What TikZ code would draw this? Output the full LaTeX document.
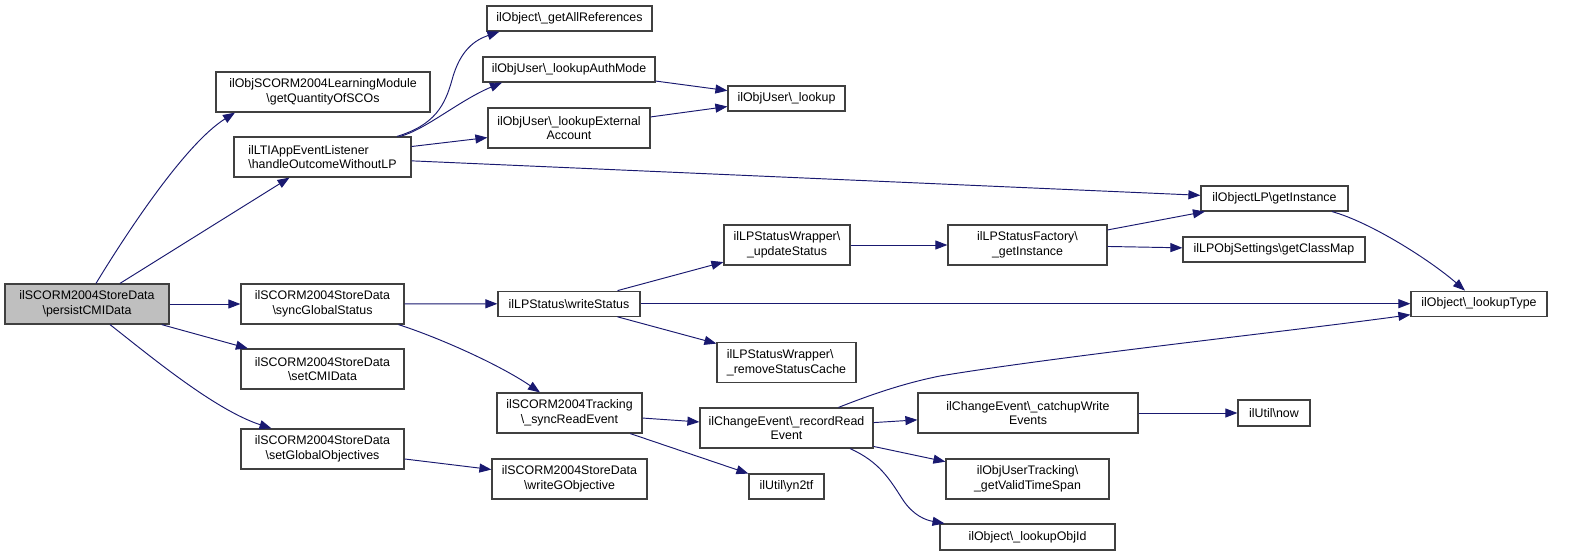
\documentclass[tikz,border=0pt]{standalone}
\usepackage{fontspec}
\setmainfont{Liberation Sans}
\usetikzlibrary{arrows.meta}
\newcommand\bsl{\textbackslash}
\definecolor{edgec}{HTML}{191970}
\definecolor{boxc}{HTML}{404040}
\definecolor{rootfill}{HTML}{BFBFBF}
\begin{document}
\begin{tikzpicture}[x=1pt,y=-1pt,
  box/.style={draw=boxc,line width=1.2pt,inner sep=0pt,align=center,rectangle,
    font=\fontsize{12.4pt}{14.7pt}\selectfont},
  sz/.style 2 args={minimum width=#1pt,minimum height=#2pt},
  edge/.style={draw=edgec,line width=0.95pt,-{Triangle[length=12pt,width=9pt]}}]
\fill[white] (0,0) rectangle (1583,556);
\useasboundingbox (0,0) rectangle (1583,556);
% nodes
\node[box,fill=rootfill,sz={164}{40}] (persist) at (87,304) {ilSCORM2004StoreData\\\bsl persistCMIData};
\node[box,sz={214}{40}] (qty) at (323,92) {ilObjSCORM2004LearningModule\\\bsl getQuantityOfSCOs};
\node[box,sz={177}{40},align=left] (handle) at (322.5,157) {ilLTIAppEventListener\\\bsl handleOutcomeWithoutLP};
\node[box,sz={163}{40}] (sync) at (322.5,304) {ilSCORM2004StoreData\\\bsl syncGlobalStatus};
\node[box,sz={163}{40}] (setcmi) at (322.5,369) {ilSCORM2004StoreData\\\bsl setCMIData};
\node[box,sz={163}{40}] (setglob) at (322.5,449) {ilSCORM2004StoreData\\\bsl setGlobalObjectives};
\node[box,sz={165}{25}] (allref) at (569.5,18.5) {ilObject\bsl\_getAllReferences};
\node[box,sz={172}{25}] (authmode) at (569,69.5) {ilObjUser\bsl\_lookupAuthMode};
\node[box,sz={162}{40}] (extacc) at (569,128) {ilObjUser\bsl\_lookupExternal\\Account};
\node[box,sz={117}{25}] (lookup) at (786.5,98.5) {ilObjUser\bsl\_lookup};
\node[box,sz={142}{25}] (writestatus) at (569,303.7) {ilLPStatus\bsl writeStatus};
\node[box,sz={126}{40}] (updstatus) at (787,245) {ilLPStatusWrapper\bsl\\\_updateStatus};
\node[box,sz={139}{40},align=left] (rmcache) at (786.5,362.5) {ilLPStatusWrapper\bsl\\\_removeStatusCache};
\node[box,sz={145}{40}] (syncread) at (569.5,413) {ilSCORM2004Tracking\\\bsl\_syncReadEvent};
\node[box,sz={173}{40}] (recread) at (786.5,428) {ilChangeEvent\bsl\_recordRead\\Event};
\node[box,sz={155}{40}] (writegobj) at (569.5,479) {ilSCORM2004StoreData\\\bsl writeGObjective};
\node[box,sz={75}{25}] (yn2tf) at (786.5,486.5) {ilUtil\bsl yn2tf};
\node[box,sz={159}{40}] (factory) at (1027.5,245) {ilLPStatusFactory\bsl\\\_getInstance};
\node[box,sz={220}{40}] (catchup) at (1028,413) {ilChangeEvent\bsl\_catchupWrite\\Events};
\node[box,sz={163}{40}] (validts) at (1027.5,479) {ilObjUserTracking\bsl\\\_getValidTimeSpan};
\node[box,sz={175}{26}] (lookupobjid) at (1027.5,537) {ilObject\bsl\_lookupObjId};
\node[box,sz={147}{25}] (getinst) at (1274.5,198.5) {ilObjectLP\bsl getInstance};
\node[box,sz={182}{25}] (classmap) at (1274,249.5) {ilLPObjSettings\bsl getClassMap};
\node[box,sz={136}{25}] (lookuptype) at (1479,303.7) {ilObject\bsl\_lookupType};
\node[box,sz={72}{26}] (now) at (1274,413) {ilUtil\bsl now};
% edges
\draw[edge] ([xshift=9pt]persist.north) .. controls (126,234) and (185,144) .. ([xshift=-88pt]qty.south);
\draw[edge] (persist) -- (handle);
\draw[edge] (persist) -- (sync);
\draw[edge] (persist) -- (setcmi);
\draw[edge] ([xshift=23pt]persist.south) .. controls (150,356) and (215,410) .. ([xshift=-51pt]setglob.north);
\draw[edge] ([xshift=74.5pt]handle.north) .. controls (435,125) and (445,105) .. (452,80)
   .. controls (460,50) and (475,40) .. ([xshift=13pt]allref.south west);
\draw[edge] ([xshift=77.5pt]handle.north) .. controls (425,130) and (460,100) .. ([xshift=-67pt]authmode.south);
\draw[edge] (handle) -- (extacc);
\draw[edge] (handle) -- (getinst);
\draw[edge] (authmode) -- (lookup);
\draw[edge] (extacc) -- (lookup);
\draw[edge] (sync) -- (writestatus);
\draw[edge] ([xshift=76pt]sync.south) .. controls (440,338) and (500,365) .. ([xshift=-29.5pt]syncread.north);
\draw[edge] (writestatus) -- (updstatus);
\draw[edge] (writestatus) -- (lookuptype);
\draw[edge] (writestatus) -- (rmcache);
\draw[edge] (updstatus) -- (factory);
\draw[edge] (factory) -- (getinst);
\draw[edge] (factory) -- (classmap);
\draw[edge] ([xshift=57.5pt]getinst.south) .. controls (1370,222) and (1430,260) .. ([xshift=-14pt]lookuptype.north);
\draw[edge] (setglob) -- (writegobj);
\draw[edge] (syncread) -- (recread);
\draw[edge] (syncread) -- (yn2tf);
\draw[edge] ([xshift=52pt]recread.north) .. controls (865,397) and (900,384) .. (940,376)
   .. controls (1060,356) and (1300,330) .. ([yshift=-11pt]lookuptype.west);
\draw[edge] (recread) -- (catchup);
\draw[edge] (recread) -- (validts);
\draw[edge] ([xshift=63.5pt]recread.south) .. controls (880,462) and (890,480) .. (903,500)
   .. controls (913,515) and (925,520) .. ([xshift=-83pt]lookupobjid.north);
\draw[edge] (catchup) -- (now);
\end{tikzpicture}
\end{document}
